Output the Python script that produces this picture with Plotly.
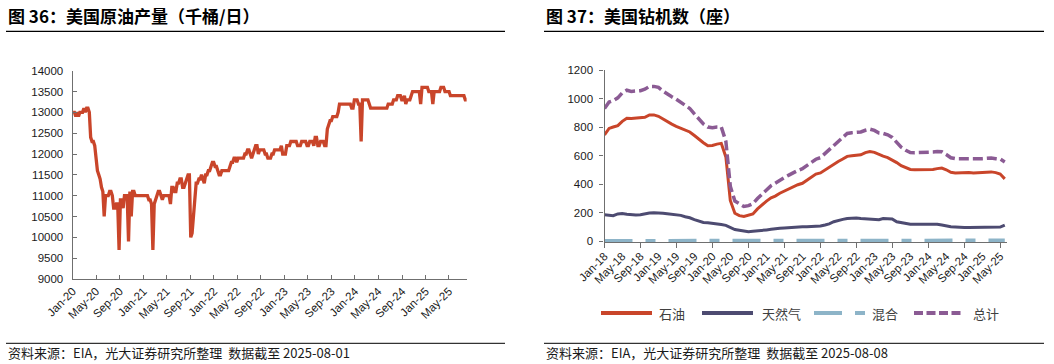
import plotly.graph_objects as go
import pandas as pd

# ---------------- data: US crude oil production (kb/d), weekly from 2020-01-03 ----------------
prod_2020 = [13000, 13000, 12900, 13000, 12900,
             13000, 13000, 13000, 13100,
             13000, 13100, 13100, 13000,
             12400, 12300, 12300, 12200,
             11900, 11600, 11500, 11400, 11200,
             11100, 10500, 11000, 11000,
             11000, 11100, 11100, 11000, 10700,
             10700, 10800, 10800, 9700,
             10900, 10900, 10700, 11000,
             11000, 11000, 9900, 11100, 10500,
             11100, 11100, 11000, 11000,
             11000, 11000, 11000, 11000]
prod_2021 = [11000, 11000, 11000, 11000, 10900,
             10900, 10800, 9700, 10800,
             10900, 11000, 11100, 11100,
             11000, 10900, 11000, 11000, 11000,
             11000, 11000, 10800, 11200,
             11200, 11100, 11100, 11300,
             11300, 11400, 11400, 11200, 11200,
             11300, 11400, 11500, 11500,
             10000, 10100, 10600, 11100,
             11300, 11300, 11400, 11400, 11500,
             11400, 11300, 11500, 11500,
             11600, 11600, 11700, 11800, 11800]
prod_2022 = [11700, 11700, 11600, 11500,
             11500, 11600, 11600, 11600,
             11600, 11600, 11600, 11700,
             11800, 11800, 11900, 11900, 11800,
             11900, 11900, 11900, 11900,
             11900, 12000, 12000, 12100,
             12100, 12000, 11900, 12000, 12100,
             12200, 12200, 12000, 12100,
             12100, 12100, 12100, 12000, 12000,
             11900, 11900, 11900, 12000,
             12000, 12100, 12100, 12100,
             12100, 12100, 12200, 12000, 12000]
prod_2023 = [12000, 12200, 12200, 12200,
             12300, 12300, 12300, 12300,
             12300, 12200, 12200, 12200, 12300,
             12300, 12300, 12300, 12200,
             12200, 12300, 12300, 12300,
             12200, 12400, 12400, 12200, 12200,
             12300, 12300, 12300, 12200,
             12200, 12600, 12700, 12800,
             12800, 12900, 12900, 12900, 12900,
             13000, 13200, 13200, 13200,
             13200, 13200, 13200, 13200,
             13200, 13200, 13100, 13100, 13300]
prod_2024 = [13300, 13300, 13200, 13200,
             12300, 13300, 13300, 13300,
             13300, 13300, 13200, 13100, 13100,
             13100, 13100, 13100, 13100,
             13100, 13100, 13100, 13100, 13100,
             13100, 13100, 13200, 13200,
             13200, 13200, 13300, 13300,
             13300, 13400, 13400, 13400, 13300,
             13300, 13400, 13200, 13300,
             13300, 13300, 13400, 13500,
             13500, 13500, 13500, 13500, 13500,
             13200, 13600, 13600, 13600]
prod_2025 = [13600, 13600, 13500, 13500, 13500,
             13200, 13500, 13500, 13500,
             13500, 13500, 13600, 13600,
             13600, 13500, 13500, 13500,
             13500, 13400, 13400, 13400, 13400,
             13400, 13400, 13400, 13400,
             13400, 13400, 13400, 13300,
             13300]
production = prod_2020 + prod_2021 + prod_2022 + prod_2023 + prod_2024 + prod_2025
prod_dates = pd.date_range("2020-01-03", periods=len(production), freq="7D")

# ---------------- data: US rig count (monthly readings from 2018-01) ----------------
oil_rigs = [745, 790, 800, 810, 840, 862, 860, 862, 865, 868, 885, 885,
            875, 855, 835, 820, 805, 790, 780, 765, 740, 712, 690, 668,
            670, 680, 685, 590, 285, 195, 178, 172, 180, 190, 225, 255,
            280, 303, 315, 335, 350, 365, 380, 395, 405, 425, 450, 470,
            478, 500, 520, 540, 558, 575, 594, 598, 600, 605, 620, 628,
            622, 606, 595, 585, 570, 550, 528, 515, 502, 500, 500, 500,
            500, 502, 508, 512, 500, 482, 478, 480, 482, 480, 478, 480,
            480, 482, 485, 480, 470, 436]
gas_rigs = [185, 180, 178, 190, 193, 188, 183, 182, 185, 193, 197, 198,
            198, 195, 192, 188, 186, 180, 170, 163, 150, 140, 130, 128,
            122, 118, 115, 110, 95, 80, 75, 68, 65, 68, 70, 72,
            78, 82, 88, 90, 92, 95, 98, 98, 100, 100, 100, 102,
            105, 112, 120, 135, 145, 152, 158, 160, 162, 158, 155, 155,
            152, 150, 158, 158, 155, 135, 128, 120, 117, 117, 118, 118,
            120, 120, 118, 112, 105, 100, 98, 95, 95, 95, 95, 95,
            95, 95, 95, 95, 98, 112]
mixed_rigs = [2, 2, 3, 3, 3, 3, 2, 2, 2, 2, 2, 2,
              3, 3, 3, 4, 4, 4, 3, 3, 3, 3, 2, 2,
              2, 2, 2, 2, 1, 1, 1, 2, 2, 2, 2, 2,
              2, 2, 2, 2, 2, 3, 3, 3, 3, 3, 3, 3,
              3, 3, 3, 3, 3, 3, 3, 3, 3, 3, 3, 3,
              3, 3, 3, 4, 4, 5, 5, 5, 5, 5, 5, 5,
              5, 5, 5, 5, 5, 5, 5, 5, 5, 5, 5, 5,
              5, 5, 5, 5, 5, 5]
total_rigs = [930, 975, 985, 1005, 1040, 1058, 1050, 1050, 1055, 1065, 1085, 1085,
              1078, 1052, 1030, 1012, 995, 972, 952, 930, 892, 855, 822, 800,
              795, 800, 800, 700, 385, 280, 258, 242, 248, 262, 298, 330,
              360, 388, 405, 428, 445, 462, 480, 495, 507, 527, 552, 574,
              585, 614, 642, 677, 705, 730, 755, 760, 765, 765, 777, 785,
              776, 758, 755, 745, 727, 687, 658, 637, 621, 620, 620, 620,
              622, 624, 628, 626, 607, 584, 578, 577, 580, 578, 575, 578,
              578, 580, 583, 578, 575, 555]


def rig_dates(values):
    return pd.date_range("2018-01-01", periods=len(values), freq="MS")


series_names = ["石油", "天然气", "混合", "总计"]

# ---------------- styling ----------------
W, H = 1054, 364
RED = "#C9452A"
NAVY = "#4D4B71"
LBLUE = "#8DB4C8"
PURPLE = "#8B5B94"
AXIS = "#6f6f6f"
TXT = "#1a1a1a"
CJK = "Noto Sans CJK SC"
LAT = "Liberation Sans, Arial, sans-serif"


def fx(x):
    return x / W


def fy(y):
    return 1 - y / H


fig = go.Figure()

fig.add_trace(go.Scatter(x=prod_dates, y=production, mode="lines", name="原油产量",
                         line=dict(color=RED, width=3.3), xaxis="x", yaxis="y",
                         showlegend=False))

fig.add_trace(go.Scatter(x=rig_dates(oil_rigs), y=oil_rigs, mode="lines", name=series_names[0],
                         line=dict(color=RED, width=3), xaxis="x2", yaxis="y2", showlegend=False))
fig.add_trace(go.Scatter(x=rig_dates(gas_rigs), y=gas_rigs, mode="lines", name=series_names[1],
                         line=dict(color=NAVY, width=3), xaxis="x2", yaxis="y2", showlegend=False))
fig.add_trace(go.Scatter(x=rig_dates(total_rigs), y=total_rigs, mode="lines", name=series_names[3],
                         line=dict(color=PURPLE, width=3.5, dash="10px,4px"), xaxis="x2", yaxis="y2",
                         showlegend=False))
fig.add_trace(go.Scatter(x=rig_dates(mixed_rigs), y=mixed_rigs, mode="lines", name=series_names[2],
                         line=dict(color=LBLUE, width=3.5, dash="28px,13px,10px,13px"),
                         xaxis="x3", yaxis="y2", showlegend=False))

tickfont = dict(family=LAT, size=11.5, color=TXT)

fig.update_layout(
    template="none",
    width=W, height=H, autosize=False,
    margin=dict(l=0, r=0, t=0, b=0, pad=0),
    paper_bgcolor="white", plot_bgcolor="white",
    showlegend=False, hovermode=False,
    xaxis=dict(domain=[fx(72.7), fx(467.4)], anchor="y", type="date",
               range=["2020-01-01", "2025-08-05"], tick0="2020-01-01", dtick="M4",
               tickformat="%b-%y", tickangle=-45, ticks="inside", ticklen=4,
               tickcolor=AXIS, showline=True, linecolor=AXIS, linewidth=1.3,
               showgrid=False, zeroline=False, tickfont=tickfont, ticklabelstandoff=0,
               automargin=False),
    yaxis=dict(domain=[fy(279), fy(70.7)], anchor="x", range=[9000, 14000], dtick=500,
               tickformat="d", ticks="inside", ticklen=4, tickcolor=AXIS, showline=True,
               linecolor=AXIS, linewidth=1.3, showgrid=False, zeroline=False,
               tickfont=tickfont, ticklabelstandoff=6, automargin=False),
    xaxis2=dict(domain=[fx(604.5), fx(1007)], anchor="y2", type="date",
                range=["2018-01-01", "2025-06-16"], tick0="2018-01-01", dtick="M4",
                tickformat="%b-%y", tickangle=-45, ticks="", showline=True,
                linecolor=AXIS, linewidth=1.3, showgrid=False, zeroline=False,
                tickfont=tickfont, ticklabelstandoff=2, automargin=False),
    xaxis3=dict(overlaying="x2", anchor="y2", type="date",
                range=["2018-01-01", "2025-06-16"], tick0="2018-01-01", dtick="M8",
                ticks="outside", ticklen=5, tickcolor=AXIS, showticklabels=False,
                showline=False, showgrid=False, zeroline=False, automargin=False),
    yaxis2=dict(domain=[fy(242), fy(70)], anchor="x2", range=[-7, 1200], tickvals=[0, 200, 400, 600, 800, 1000, 1200],
                tickformat="d", ticks="outside", ticklen=4, tickcolor=AXIS, showline=True,
                linecolor=AXIS, linewidth=1.3, showgrid=False, zeroline=False,
                tickfont=tickfont, ticklabelstandoff=4, automargin=False),
)

annotations = [
    dict(text="<b>图 36：美国原油产量（千桶/日）</b>", x=fx(6), y=fy(16), xanchor="left",
         yanchor="middle", font=dict(family=CJK, size=17, color="#000000")),
    dict(text="<b>图 37：美国钻机数（座）</b>", x=fx(544), y=fy(16), xanchor="left",
         yanchor="middle", font=dict(family=CJK, size=17, color="#000000")),
    dict(text="资料来源：EIA，光大证券研究所整理  数据截至 2025-08-01", x=fx(6), y=fy(352.5),
         xanchor="left", yanchor="middle", font=dict(family=CJK, size=13, color=TXT)),
    dict(text="资料来源：EIA，光大证券研究所整理  数据截至 2025-08-08", x=fx(544), y=fy(352.5),
         xanchor="left", yanchor="middle", font=dict(family=CJK, size=13, color=TXT)),
]

shapes = [
    dict(type="line", xref="paper", yref="paper", x0=fx(6), x1=fx(505), y0=fy(31.3), y1=fy(31.3),
         line=dict(color="#000000", width=1.3)),
    dict(type="line", xref="paper", yref="paper", x0=fx(544), x1=fx(1044), y0=fy(31.3), y1=fy(31.3),
         line=dict(color="#000000", width=1.3)),
    dict(type="line", xref="paper", yref="paper", x0=fx(6), x1=fx(505), y0=fy(343.3), y1=fy(343.3),
         line=dict(color="#000000", width=1)),
    dict(type="line", xref="paper", yref="paper", x0=fx(544), x1=fx(1044), y0=fy(343.3), y1=fy(343.3),
         line=dict(color="#000000", width=1)),
]

# legend for the rig chart
legend_items = [
    (series_names[0], RED, "solid", 601, 652, 657),
    (series_names[1], NAVY, "solid", 702, 753, 760),
    (series_names[2], LBLUE, "28px,13px,10px,13px", 814, 866, 870),
    (series_names[3], PURPLE, "9px,3.5px", 914, 962, 971),
]
LEG_Y = 313
for name, color, dash, x0, x1, xt in legend_items:
    shapes.append(dict(type="line", xref="paper", yref="paper", x0=fx(x0), x1=fx(x1),
                       y0=fy(LEG_Y), y1=fy(LEG_Y), line=dict(color=color, width=4, dash=dash)))
    annotations.append(dict(text=name, x=fx(xt), y=fy(LEG_Y), xanchor="left", yanchor="middle",
                            font=dict(family=CJK, size=13, color="#404040")))

for a in annotations:
    a.update(xref="paper", yref="paper", showarrow=False)

fig.update_layout(annotations=annotations, shapes=shapes)

fig.write_html("out.html", config={"displayModeBar": False},
               post_script="document.body.style.margin='0';document.body.style.padding='0';")
